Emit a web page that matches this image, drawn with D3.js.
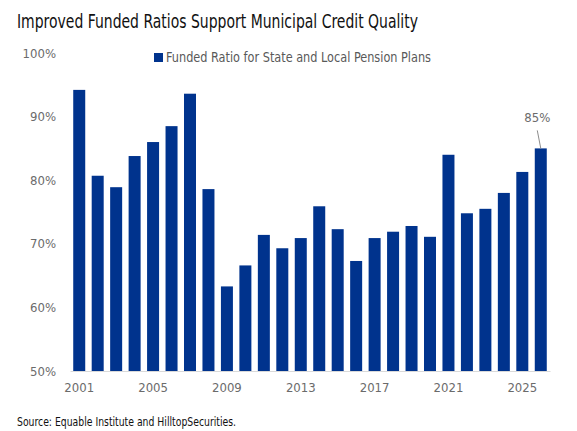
<!DOCTYPE html>
<html>
<head>
<meta charset="utf-8">
<script src="https://cdn.jsdelivr.net/npm/d3@7"></script>
<style>
  html, body { margin: 0; padding: 0; background: #fff; }
  svg { display: block; }
  .cond { font-family: "Liberation Sans Narrow", "DejaVu Sans Condensed", "Roboto", sans-serif; }
</style>
</head>
<body>
<svg id="chart" width="577" height="431"></svg>
<script>
const years = [2001,2002,2003,2004,2005,2006,2007,2008,2009,2010,2011,2012,2013,2014,2015,2016,2017,2018,2019,2020,2021,2022,2023,2024,2025,2026];
const fundedRatio = [94.2,80.7,78.9,83.8,86.0,88.5,93.6,78.6,63.3,66.6,71.4,69.3,70.9,75.9,72.3,67.3,70.9,71.9,72.8,71.1,84.0,74.8,75.5,78.0,81.3,85.0];
const yTicks = [50,60,70,80,90,100];
const xTickYears = [2001,2005,2009,2013,2017,2021,2025];
const titleText = "Improved Funded Ratios Support Municipal Credit Quality";
const legendText = "Funded Ratio for State and Local Pension Plans";
const sourceText = "Source: Equable Institute and HilltopSecurities.";
const calloutYear = 2026;

const svg = d3.select("#chart");
const barColor = "#00338d";
const labelColor = "#6b6b6b";

const x = d3.scaleBand().domain(years).range([70, 550]).paddingInner(0.35).paddingOuter(0.175);
const y = d3.scaleLinear().domain([50, 100]).range([371, 53]);

// title
svg.append("text").attr("class", "cond")
  .attr("x", 17).attr("y", 28)
  .attr("font-size", 20).attr("fill", "#111")
  .attr("textLength", 401).attr("lengthAdjust", "spacingAndGlyphs")
  .text(titleText);

// legend
svg.append("rect").attr("x", 154).attr("y", 53).attr("width", 9).attr("height", 9).attr("fill", barColor);
svg.append("text").attr("class", "cond")
  .attr("x", 166).attr("y", 57.5).attr("dy", "0.35em")
  .attr("font-size", 13.5).attr("fill", "#595959")
  .attr("textLength", 265).attr("lengthAdjust", "spacingAndGlyphs")
  .text(legendText);

// bars
svg.append("g").selectAll("rect").data(years.map((yr, i) => ({yr, v: fundedRatio[i]})))
  .join("rect")
  .attr("x", d => x(d.yr))
  .attr("width", x.bandwidth())
  .attr("y", d => y(d.v))
  .attr("height", d => y(50) - y(d.v))
  .attr("fill", barColor);

// x axis
const xAxis = svg.append("g").attr("transform", `translate(0,${y(50)})`)
  .call(d3.axisBottom(x).tickValues(xTickYears).tickSize(0).tickPadding(12).tickSizeOuter(0));
xAxis.select(".domain").attr("stroke", "#d9d9d9").attr("stroke-width", 1.2);
xAxis.selectAll("text").attr("class", "cond").attr("font-size", 13).attr("fill", labelColor);

// y axis
const yAxis = svg.append("g").attr("transform", "translate(70,0)")
  .call(d3.axisLeft(y).tickValues(yTicks).tickSize(0).tickPadding(14).tickFormat(d => d + "%"));
yAxis.select(".domain").remove();
yAxis.selectAll("text").attr("class", "cond").attr("font-size", 13).attr("fill", labelColor);

// callout
const ci = years.indexOf(calloutYear);
const cx = x(calloutYear) + x.bandwidth() / 2;
const cy = y(fundedRatio[ci]);
svg.append("line")
  .attr("x1", cx - 3.5).attr("y1", cy - 18)
  .attr("x2", cx).attr("y2", cy)
  .attr("stroke", "#8c8c8c").attr("stroke-width", 1);
svg.append("text").attr("class", "cond")
  .attr("x", cx - 3.5).attr("y", cy - 31).attr("dy", "0.35em")
  .attr("text-anchor", "middle")
  .attr("font-size", 13).attr("fill", labelColor)
  .text(Math.round(fundedRatio[ci]) + "%");

// source
svg.append("text").attr("class", "cond")
  .attr("x", 17).attr("y", 421).attr("dy", "0.35em")
  .attr("font-size", 13).attr("fill", "#111")
  .attr("textLength", 219).attr("lengthAdjust", "spacingAndGlyphs")
  .text(sourceText);
</script>
</body>
</html>
